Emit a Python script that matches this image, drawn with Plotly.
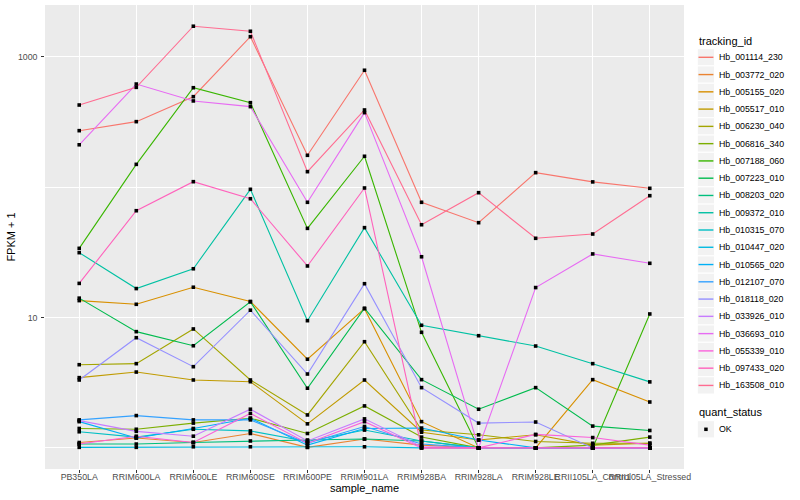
import plotly.graph_objects as go

samples = ["PB350LA", "RRIM600LA", "RRIM600LE", "RRIM600SE", "RRIM600PE", "RRIM901LA",
           "RRIM928BA", "RRIM928LA", "RRIM928LE", "RRII105LA_Control", "RRII105LA_Stressed"]

tracking_ids = ["Hb_001114_230", "Hb_003772_020", "Hb_005155_020", "Hb_005517_010",
                "Hb_006230_040", "Hb_006816_340", "Hb_007188_060", "Hb_007223_010",
                "Hb_008203_020", "Hb_009372_010", "Hb_010315_070", "Hb_010447_020",
                "Hb_010565_020", "Hb_012107_070", "Hb_018118_020", "Hb_033926_010",
                "Hb_036693_010", "Hb_055339_010", "Hb_097433_020", "Hb_163508_010"]

colors = ["#F8766D", "#EA8331", "#D89000", "#C09B00", "#A3A500", "#7CAE00", "#39B600",
          "#00BB4E", "#00BF7D", "#00C1A3", "#00BFC4", "#00BAE0", "#00B0F6", "#35A2FF",
          "#9590FF", "#C77CFF", "#E76BF3", "#FA62DB", "#FF62BC", "#FF6C91"]

# FPKM + 1 values, one list per gene, in sample order
Hb_001114_230 = [272, 319, 496, 1432, 176, 791, 76.7, 53.5, 129.5, 110, 98.2]
Hb_003772_020 = [1.10, 1.19, 1.10, 1.29, 1.01, 1.17, 1.05, 1.0, 1.0, 1.0, 1.0]
Hb_005155_020 = [13.5, 12.65, 17.1, 13.3, 4.79, 11.7, 1.59, 1.0, 1.0, 3.34, 2.25]
Hb_005517_010 = [3.46, 3.82, 3.32, 3.22, 1.53, 3.32, 1.32, 1.15, 1.26, 1.05, 1.085]
Hb_006230_040 = [4.35, 4.43, 8.18, 3.32, 1.79, 6.53, 1.37, 1.26, 1.12, 1.085, 1.085]
Hb_006816_340 = [1.41, 1.39, 1.55, 1.69, 1.29, 2.10, 1.21, 1.0, 1.0, 1.05, 1.21]
Hb_007188_060 = [34.0, 150, 581, 446, 48.4, 173, 7.71, 1.0, 1.0, 1.0, 10.66]
Hb_007223_010 = [14.1, 7.80, 6.08, 13.2, 2.87, 11.8, 3.34, 1.98, 2.90, 1.47, 1.36]
Hb_008203_020 = [1.07, 1.07, 1.10, 1.13, 1.15, 1.17, 1.13, 1.0, 1.0, 1.0, 1.0]
Hb_009372_010 = [31.5, 16.7, 23.7, 96.5, 9.47, 49.0, 8.73, 7.26, 6.05, 4.43, 3.21]
Hb_010315_070 = [1.33, 1.21, 1.39, 1.35, 1.12, 1.37, 1.13, 1.0, 1.0, 1.0, 1.0]
Hb_010447_020 = [1.01, 1.01, 1.02, 1.02, 1.01, 1.02, 1.0, 1.0, 1.0, 1.0, 1.0]
Hb_010565_020 = [1.59, 1.19, 1.41, 1.69, 1.05, 1.41, 1.42, 1.15, 1.0, 1.0, 1.0]
Hb_012107_070 = [1.64, 1.77, 1.64, 1.64, 1.085, 1.46, 1.07, 1.0, 1.0, 1.0, 1.0]
Hb_018118_020 = [3.32, 7.01, 4.20, 11.4, 3.69, 18.2, 2.90, 1.55, 1.58, 1.0, 1.0]
Hb_033926_010 = [1.62, 1.34, 1.23, 1.98, 1.13, 1.67, 1.02, 1.0, 1.0, 1.0, 1.0]
Hb_036693_010 = [212, 620, 460, 416, 76.7, 374, 29.3, 1.0, 17.0, 30.8, 26.1]
Hb_055339_010 = [1.07, 1.23, 1.10, 1.84, 1.085, 1.59, 1.0, 1.0, 1.27, 1.20, 1.05]
Hb_097433_020 = [18.3, 66.1, 110.4, 81.7, 24.9, 98.8, 1.0, 1.0, 1.0, 1.0, 1.0]
Hb_163508_010 = [428, 585, 1722, 1575, 131.8, 392, 51.6, 90.9, 40.6, 43.8, 86.2]

series = [Hb_001114_230, Hb_003772_020, Hb_005155_020, Hb_005517_010, Hb_006230_040,
          Hb_006816_340, Hb_007188_060, Hb_007223_010, Hb_008203_020, Hb_009372_010,
          Hb_010315_070, Hb_010447_020, Hb_010565_020, Hb_012107_070, Hb_018118_020,
          Hb_033926_010, Hb_036693_010, Hb_055339_010, Hb_097433_020, Hb_163508_010]

y_tick_vals = [10, 1000]
y_tick_text = ["10", "1000"]
y_minor_vals = [1, 100]
quant_status = ["OK"]

FONT = "Liberation Sans, Arial, sans-serif"

fig = go.Figure()

for name, vals, col in zip(tracking_ids, series, colors):
    fig.add_trace(go.Scatter(x=samples, y=vals, mode="lines", name=name,
                             line=dict(color=col, width=1.1), showlegend=False,
                             hoverinfo="skip"))

for name, vals in zip(tracking_ids, series):
    fig.add_trace(go.Scatter(x=samples, y=vals, mode="markers", name=quant_status[0],
                             marker=dict(color="black", size=3.6, symbol="square"),
                             showlegend=False))

# plot area geometry (pixels)
L, R, T, B = 45, 684, 5, 469
W, H = 800, 500

def px(x):
    return (x - L) / (R - L)

def py(y):
    return (B - y) / (B - T)

shapes = []
annotations = []

# legend: tracking_id
annotations.append(dict(text="tracking_id", xref="paper", yref="paper", x=px(696.5), y=py(40.7),
                        xanchor="left", yanchor="middle", showarrow=False,
                        font=dict(family=FONT, size=11, color="black")))
step = 17.27
for i, (name, col) in enumerate(zip(tracking_ids, colors)):
    cy = 57.3 + i * step
    shapes.append(dict(type="rect", xref="paper", yref="paper",
                       x0=px(697.3), x1=px(714.6), y0=py(cy - step / 2), y1=py(cy + step / 2),
                       fillcolor="#F2F2F2", line=dict(color="white", width=1), layer="above"))
    shapes.append(dict(type="line", xref="paper", yref="paper",
                       x0=px(698.5), x1=px(713.4), y0=py(cy), y1=py(cy),
                       line=dict(color=col, width=1.4), layer="above"))
    annotations.append(dict(text=name, xref="paper", yref="paper", x=px(716.5), y=py(cy),
                            xanchor="left", yanchor="middle", showarrow=False,
                            font=dict(family=FONT, size=8.8, color="black")))

# legend: quant_status
annotations.append(dict(text="quant_status", xref="paper", yref="paper", x=px(696.5), y=py(412.3),
                        xanchor="left", yanchor="middle", showarrow=False,
                        font=dict(family=FONT, size=11, color="black")))
cy = 429.3
shapes.append(dict(type="rect", xref="paper", yref="paper",
                   x0=px(697.3), x1=px(714.6), y0=py(cy - step / 2), y1=py(cy + step / 2),
                   fillcolor="#F2F2F2", line=dict(color="white", width=1), layer="above"))
shapes.append(dict(type="rect", xref="paper", yref="paper",
                   x0=px(704.2), x1=px(707.7), y0=py(cy - 1.75), y1=py(cy + 1.75),
                   fillcolor="black", line=dict(width=0), layer="above"))
annotations.append(dict(text=quant_status[0], xref="paper", yref="paper", x=px(716.5), y=py(cy),
                        xanchor="left", yanchor="middle", showarrow=False,
                        font=dict(family=FONT, size=8.8, color="black")))

fig.update_layout(
    width=W, height=H,
    margin=dict(l=L, r=W - R, t=T, b=H - B, pad=0),
    paper_bgcolor="white",
    plot_bgcolor="#EBEBEB",
    font=dict(family=FONT, size=8.8, color="#4D4D4D"),
    showlegend=False,
    shapes=shapes,
    annotations=annotations,
    xaxis=dict(
        type="category", categoryorder="array", categoryarray=samples,
        range=[-0.6, 10.6], tickangle=0,
        showgrid=True, gridcolor="white", gridwidth=1.1,
        ticks="outside", ticklen=2.75, tickwidth=1.07, tickcolor="#333333",
        tickfont=dict(family=FONT, size=8.8, color="#4D4D4D"),
        ticklabelstandoff=-3,
        showline=False, zeroline=False,
        title=dict(text="sample_name", font=dict(family=FONT, size=11, color="black"), standoff=2),
        automargin=False,
    ),
    yaxis=dict(
        type="log", range=[-0.162, 3.399],
        tickmode="array", tickvals=y_tick_vals, ticktext=y_tick_text,
        showgrid=True, gridcolor="white", gridwidth=1.1,
        minor=dict(tickmode="array", tickvals=y_minor_vals, showgrid=True,
                   gridcolor="white", gridwidth=0.55, ticks=""),
        ticks="outside", ticklen=2.75, tickwidth=1.07, tickcolor="#333333",
        tickfont=dict(family=FONT, size=8.8, color="#4D4D4D"),
        ticklabelstandoff=2,
        showline=False, zeroline=False,
        title=dict(text="FPKM + 1", font=dict(family=FONT, size=11, color="black"), standoff=0),
        automargin=False,
    ),
)

fig.write_html("out.html", config={"displayModeBar": False},
               post_script="document.body.style.margin='0px';")
